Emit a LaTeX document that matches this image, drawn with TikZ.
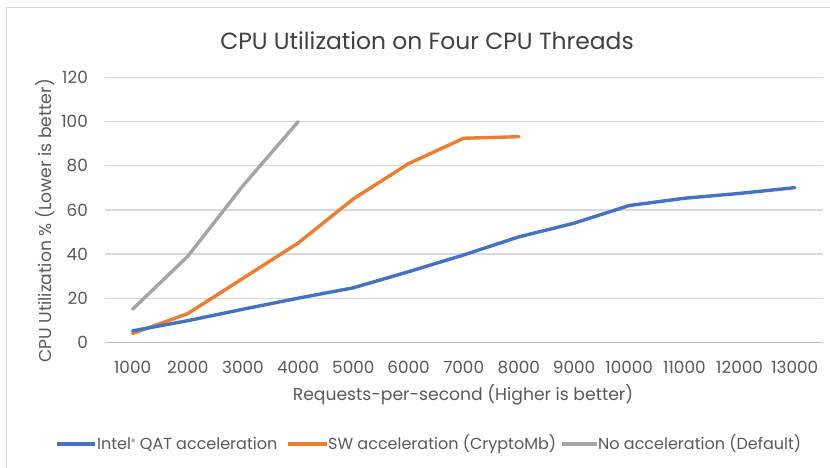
\documentclass[tikz,border=0pt]{standalone}
\usepackage{fontspec}
\setmainfont{Poppins}
\definecolor{qatblue}{HTML}{4472C4}
\definecolor{swor}{HTML}{ED7D31}
\definecolor{nogray}{HTML}{A5A5A5}
\definecolor{gridc}{HTML}{D9D9D9}
\definecolor{txt}{HTML}{595959}
\definecolor{frame}{HTML}{D9D9D9}
\begin{document}
\begin{tikzpicture}[x=1pt,y=-1pt,
  series/.style={line width=3.4pt,line join=round,line cap=round},
  tick/.style={text=txt,font=\fontsize{16.8}{18}\selectfont,inner sep=0pt},
  axtitle/.style={text=txt,font=\fontsize{17.2}{18}\selectfont,inner sep=0pt},
  legtext/.style={text=txt,font=\fontsize{16}{18}\selectfont,inner sep=0pt,anchor=west}]
\useasboundingbox (0,0) rectangle (830,467);
\fill[white] (0,0) rectangle (830,467);
% chart frame
\draw[frame,line width=1.2pt] (6,7.5) -- (836,7.5);
\draw[frame,line width=1.2pt] (6.5,7) -- (6.5,475);
% title
\node[text=black!75,font=\fontsize{23.4}{26}\selectfont,inner sep=0pt] (title) at (427,41) {CPU Utilization on Four CPU Threads};
% horizontal grid lines and value labels
\foreach \v in {20,40,...,120}{
  \draw[gridc,line width=1.3pt] (105,342.3-2.206*\v) -- (822.7,342.3-2.206*\v);
}
\draw[black!28,line width=1.3pt] (105,342.3) -- (822.7,342.3);
\foreach \v in {0,20,...,120}{
  \node[tick,anchor=east] (ylab\v) at (88,342.3-2.206*\v) {\v};
}
% category labels
\foreach \i in {1,...,13}{
  \node[tick] (xlab\i) at (132.6+55.18*\i-55.18,367) {\the\numexpr\i*1000\relax};
}
% axis titles
\node[axtitle] (xtitle) at (463,395) {Requests-per-second (Higher is better)};
\node[axtitle,rotate=90] (ytitle) at (45,221) {CPU Utilization \% (Lower is better)};
% data series
\begin{scope}[shift={(77.42,342.3)},x={(55.18pt,0pt)},y={(0pt,2.206pt)}]
  \draw[series,nogray] plot coordinates {(1,15) (2,39) (3,71) (4,100)};
  \draw[series,swor] plot coordinates {(1,4) (2,13) (3,29) (4,45) (5,65) (6,81) (7,92.5) (8,93.2)};
  \draw[series,qatblue] plot coordinates {(1,5.2) (2,9.8) (3,15) (4,20) (5,24.7) (6,32) (7,39.6) (8,47.8) (9,54) (10,62) (11,65.3) (12,67.5) (13,70.1)};
\end{scope}
% legend
\coordinate (lg1a) at (57,444); \coordinate (lg1b) at (95,444);
\coordinate (lg2a) at (288,444); \coordinate (lg2b) at (327,444);
\coordinate (lg3a) at (562,444); \coordinate (lg3b) at (597,444);
\draw[series,qatblue,line cap=butt] (lg1a) -- (lg1b);
\node[legtext] (leg1) at (97,444) {Intel\raisebox{0.45ex}{\fontsize{9}{9}\selectfont®} QAT acceleration};
\draw[series,swor,line cap=butt] (lg2a) -- (lg2b);
\node[legtext] (leg2) at (328,444) {SW acceleration (CryptoMb)};
\draw[series,nogray,line cap=butt] (lg3a) -- (lg3b);
\node[legtext] (leg3) at (598,444) {No acceleration (Default)};
\end{tikzpicture}
\end{document}
